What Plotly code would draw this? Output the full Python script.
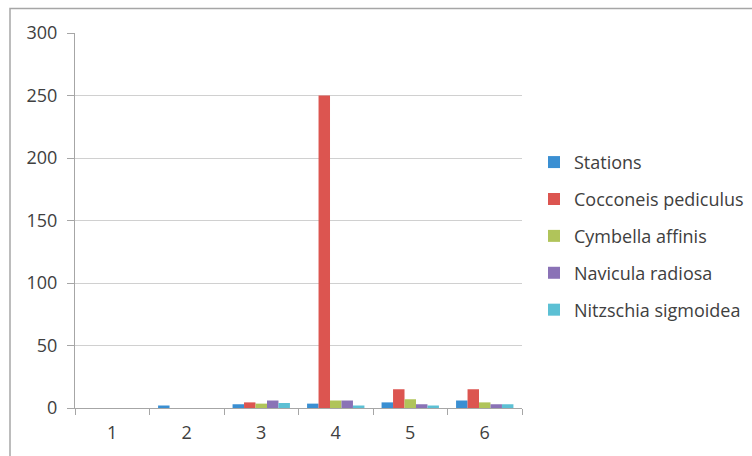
import plotly.graph_objects as go

# Stations along the x axis
stations = ["1", "2", "3", "4", "5", "6"]

# Counts per series at each station
stations_vals = [0, 2, 3, 3.5, 4.5, 6]
cocconeis = [0, 0, 4.5, 250, 15, 15]
cymbella = [0, 0, 3.5, 6, 7, 4.5]
navicula = [0, 0, 6, 6, 3, 3]
nitzschia = [0, 0, 4, 2, 2, 3]

series_names = ["Stations", "Cocconeis pediculus", "Cymbella affinis",
                "Navicula radiosa", "Nitzschia sigmoidea"]
series_vals = [stations_vals, cocconeis, cymbella, navicula, nitzschia]
colors = ["#3A8FD2", "#DC5550", "#B0C45A", "#8A72B6", "#5CC0D4"]

FONT = "'Open Sans', Lato, sans-serif"
FS = 18

fig = go.Figure()
for i, (name, vals, col) in enumerate(zip(series_names, series_vals, colors)):
    fig.add_trace(go.Bar(
        x=stations, y=vals, name=name, marker_color=col,
        marker_line_width=0, legendgroup=f"g{i}",
    ))

W, H = 752, 456
L, R, T, B = 75, 230, 33, 48
pw, ph = W - L - R, H - T - B

# Outer chart frame
fig.add_shape(
    type="rect", xref="paper", yref="paper",
    x0=(10 - L) / pw, x1=(W + 10 - L) / pw,
    y0=(H - B - (H + 10)) / ph, y1=(H - B - 8.5) / ph,
    line=dict(color="#A6A6A6", width=1.5), fillcolor="rgba(0,0,0,0)",
    layer="below",
)

fig.update_layout(
    width=W, height=H,
    margin=dict(l=L, r=R, t=T, b=B, autoexpand=False),
    paper_bgcolor="white", plot_bgcolor="white",
    barmode="group", bargap=0.23, bargroupgap=0,
    font=dict(family=FONT, size=FS, color="#404040"),
    showlegend=True,
    legend=dict(
        x=(534 - L) / pw, xanchor="left",
        y=0.459, yanchor="middle",
        font=dict(family=FONT, size=FS, color="#404040"),
        traceorder="grouped", tracegroupgap=10.5,
        itemwidth=30, bgcolor="rgba(0,0,0,0)",
    ),
    xaxis=dict(
        type="category", showgrid=False,
        showline=True, linecolor="#A6A6A6", linewidth=1,
        ticks="outside", tickson="boundaries", ticklen=6,
        tickcolor="#A6A6A6", tickfont=dict(size=FS),
        ticklabelstandoff=8,
    ),
    yaxis=dict(
        range=[0, 300], dtick=50, showgrid=True, gridcolor="#D0D0D0",
        gridwidth=1, showline=True, linecolor="#A6A6A6", linewidth=1,
        ticks="outside", ticklen=7, tickcolor="#A6A6A6",
        zeroline=False, tickfont=dict(size=FS),
        ticklabelstandoff=6,
    ),
)

fig.write_html("out.html")
